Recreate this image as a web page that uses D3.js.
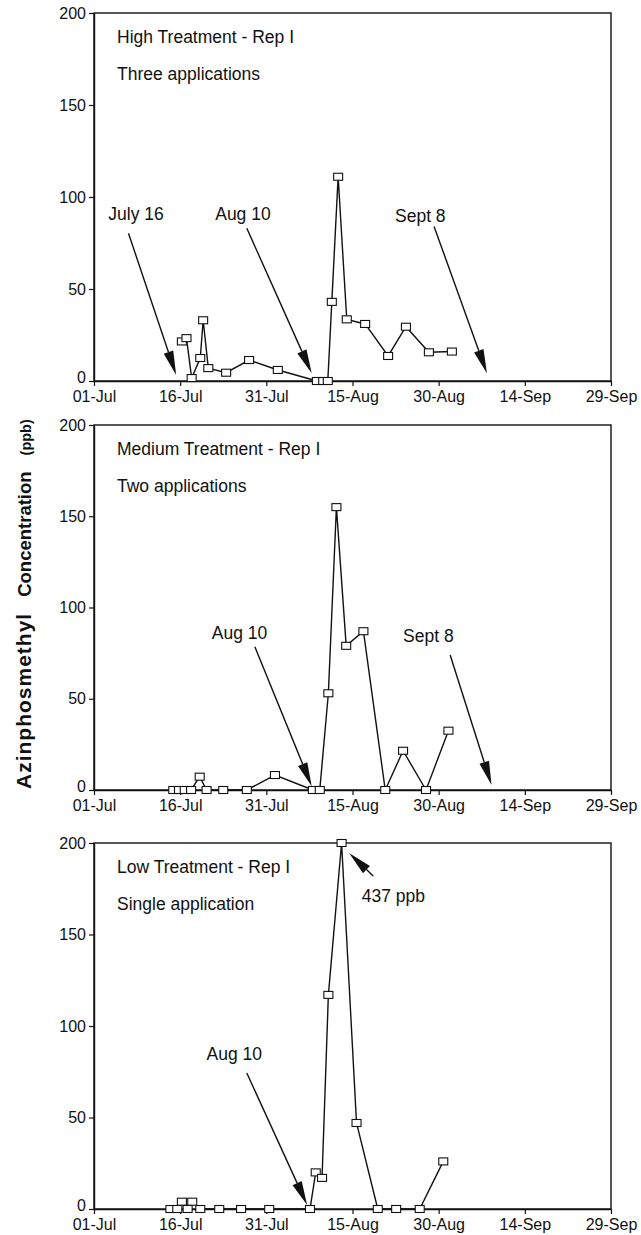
<!DOCTYPE html>
<html><head><meta charset="utf-8">
<script src="https://cdn.jsdelivr.net/npm/d3@7"></script>
<style>
body{margin:0;background:#fff}
svg{display:block}
text{font-family:"Liberation Sans",Arial,Helvetica,sans-serif;fill:#111}
</style>
</head><body>
<svg id="chart" width="641" height="1235"></svg>
<script>
// ---------- data ----------
const xTickDays   = [0, 15, 30, 45, 60, 75, 90];          // days after 01-Jul
const xTickLabels = ["01-Jul","16-Jul","31-Jul","15-Aug","30-Aug","14-Sep","29-Sep"];
const yTicks      = [0, 50, 100, 150, 200];

const panelTitles    = ["High Treatment - Rep I", "Medium Treatment - Rep I", "Low Treatment - Rep I"];
const panelSubtitles = ["Three applications", "Two applications", "Single application"];

// High treatment (ppb) — sampling day (days after 01-Jul) and concentration
const highDays   = [15.3, 16.1, 17.0, 18.5, 19.0, 19.9, 23.0, 27.0, 32.0, 38.8, 39.9, 40.7, 41.4, 42.5, 44.0, 47.2, 51.2, 54.3, 58.3, 62.3];
const highValues = [21.5, 23.3, 1.6, 12.5, 33, 7, 4.5, 11.4, 6, 0, 0, 0, 43, 111, 33.5, 31, 13.6, 29.5, 15.6, 16];

// Medium treatment
const mediumDays   = [13.8, 14.8, 15.8, 16.9, 18.4, 19.6, 22.5, 26.6, 31.5, 38.1, 39.3, 40.8, 42.2, 43.9, 46.9, 50.7, 53.8, 57.8, 61.7];
const mediumValues = [0, 0, 0, 0, 7.3, 0, 0, 0, 8.2, 0, 0, 53, 155, 79, 87, 0, 21.5, 0, 32.5];

// Low treatment (peak 437 ppb drawn at the top of the axis)
const lowDays   = [13.3, 14.5, 15.3, 16.3, 17.1, 18.5, 21.8, 25.6, 30.5, 37.6, 38.6, 39.7, 40.8, 43.1, 45.7, 49.4, 52.6, 56.7, 60.8];
const lowValues = [0, 0, 4, 0, 4, 0, 0, 0, 0, 0, 20, 17, 117, 437, 47, 0, 0, 0, 26];

// Annotations: label, text anchor (day, value), arrow from (day, value) to (day, value)
const highNotes = [
  {label:"July 16", tDay:2.5,  tVal:87.5, fDay:6.0,  fVal:80.3, eDay:14.3, eVal:3.3},
  {label:"Aug 10",  tDay:21.1, tVal:87.5, fDay:26.6, fVal:83.0, eDay:37.9, eVal:4.2},
  {label:"Sept 8",  tDay:52.4, tVal:86.4, fDay:59.2, fVal:84.0, eDay:68.4, eVal:4.2}
];
const mediumNotes = [
  {label:"Aug 10",  tDay:20.5, tVal:82.7, fDay:28.0, fVal:78.5, eDay:37.9, eVal:2.0},
  {label:"Sept 8",  tDay:53.8, tVal:81.0, fDay:62.0, fVal:74.0, eDay:69.2, eVal:2.7}
];
const lowNotes = [
  {label:"437 ppb", tDay:46.6, tVal:167.7, fDay:48.6, fVal:182, eDay:44.4, eVal:194.5},
  {label:"Aug 10",  tDay:19.6, tVal:81.6,  fDay:26.6, fVal:74.3, eDay:37.1, eVal:2.2}
];

const yAxisTitle = ["Azinphosmethyl", "Concentration", "(ppb)"];

// ---------- layout ----------
const plotLeft = 94, plotRight = 611;
const panels = [
  {top:13,  bottom:381, days:highDays,   values:highValues,   notes:highNotes},
  {top:425, bottom:790, days:mediumDays, values:mediumValues, notes:mediumNotes},
  {top:843, bottom:1209, days:lowDays,   values:lowValues,    notes:lowNotes}
];

const svg = d3.select("#chart");
const FONT = 16;

panels.forEach((p, i) => {
  const x = d3.scaleLinear().domain([0, 90]).range([plotLeft, plotRight]);
  const y = d3.scaleLinear().domain([0, 200]).range([p.bottom, p.top]).clamp(true);
  const g = svg.append("g");

  // frame
  g.append("rect")
    .attr("x", plotLeft).attr("y", p.top)
    .attr("width", plotRight - plotLeft).attr("height", p.bottom - p.top)
    .attr("fill", "none").attr("stroke", "#111").attr("stroke-width", 1.4);

  // axes
  const ya = g.append("g").attr("transform", `translate(${plotLeft},0)`)
    .call(d3.axisLeft(y).tickValues(yTicks).tickSize(5).tickSizeOuter(0).tickPadding(3));
  const xa = g.append("g").attr("transform", `translate(0,${p.bottom})`)
    .call(d3.axisBottom(x).tickValues(xTickDays).tickFormat((d, k) => xTickLabels[k])
      .tickSize(5).tickSizeOuter(0).tickPadding(5));
  [ya, xa].forEach(a => {
    a.select(".domain").attr("stroke", "#111").attr("stroke-width", 1.4);
    a.selectAll(".tick line").attr("stroke", "#111").attr("stroke-width", 1.2);
    a.selectAll(".tick text").attr("font-size", FONT).attr("fill", "#111")
      .style("font-family", '"Liberation Sans",Arial,sans-serif');
  });
  // lift the "0" label slightly so it clears the date labels
  ya.selectAll(".tick text").filter(d => d === 0).attr("dy", "0.12em");

  // titles
  g.append("text").attr("x", 117).attr("y", p.top + 30)
    .attr("font-size", 17.5).text(panelTitles[i]);
  g.append("text").attr("x", 117).attr("y", p.top + 67)
    .attr("font-size", 17.5).text(panelSubtitles[i]);

  // series line
  const pts = p.days.map((d, k) => [d, p.values[k]]);
  g.append("path").datum(pts)
    .attr("fill", "none").attr("stroke", "#111").attr("stroke-width", 1.4)
    .attr("d", d3.line().x(d => x(d[0])).y(d => y(d[1])));

  // markers (open squares)
  g.selectAll("rect.mk").data(pts).join("rect").attr("class", "mk")
    .attr("x", d => x(d[0]) - 4.5).attr("y", d => y(d[1]) - 3.5)
    .attr("width", 9).attr("height", 7)
    .attr("fill", "#fff").attr("stroke", "#111").attr("stroke-width", 1.1);

  // annotations
  p.notes.forEach(n => {
    g.append("text").attr("x", x(n.tDay)).attr("y", y(n.tVal))
      .attr("font-size", 17.5).text(n.label);
    const x1 = x(n.fDay), y1 = y(n.fVal), x2 = x(n.eDay), y2 = y(n.eVal);
    const ang = Math.atan2(y2 - y1, x2 - x1);
    const L = 24, W = 5;
    const bx = x2 - L * Math.cos(ang), by = y2 - L * Math.sin(ang);
    g.append("line").attr("x1", x1).attr("y1", y1).attr("x2", bx).attr("y2", by)
      .attr("stroke", "#111").attr("stroke-width", 1.4);
    const px = -Math.sin(ang), py = Math.cos(ang);
    g.append("path")
      .attr("d", `M${x2},${y2}L${bx + W * px},${by + W * py}L${bx - W * px},${by - W * py}Z`)
      .attr("fill", "#111");
  });
});

// y-axis title (rotated), running bottom-to-top along the middle panel
const yt = svg.append("text")
  .attr("transform", "translate(31,789) rotate(-90)")
  .attr("text-anchor", "start").attr("font-weight", "bold");
yt.append("tspan").attr("font-size", 21).attr("letter-spacing", 1).text(yAxisTitle[0]);
yt.append("tspan").attr("font-size", 18.5).attr("dx", 16).text(yAxisTitle[1]);
yt.append("tspan").attr("font-size", 14.5).attr("dx", 16).text(yAxisTitle[2]);
</script>
</body></html>
